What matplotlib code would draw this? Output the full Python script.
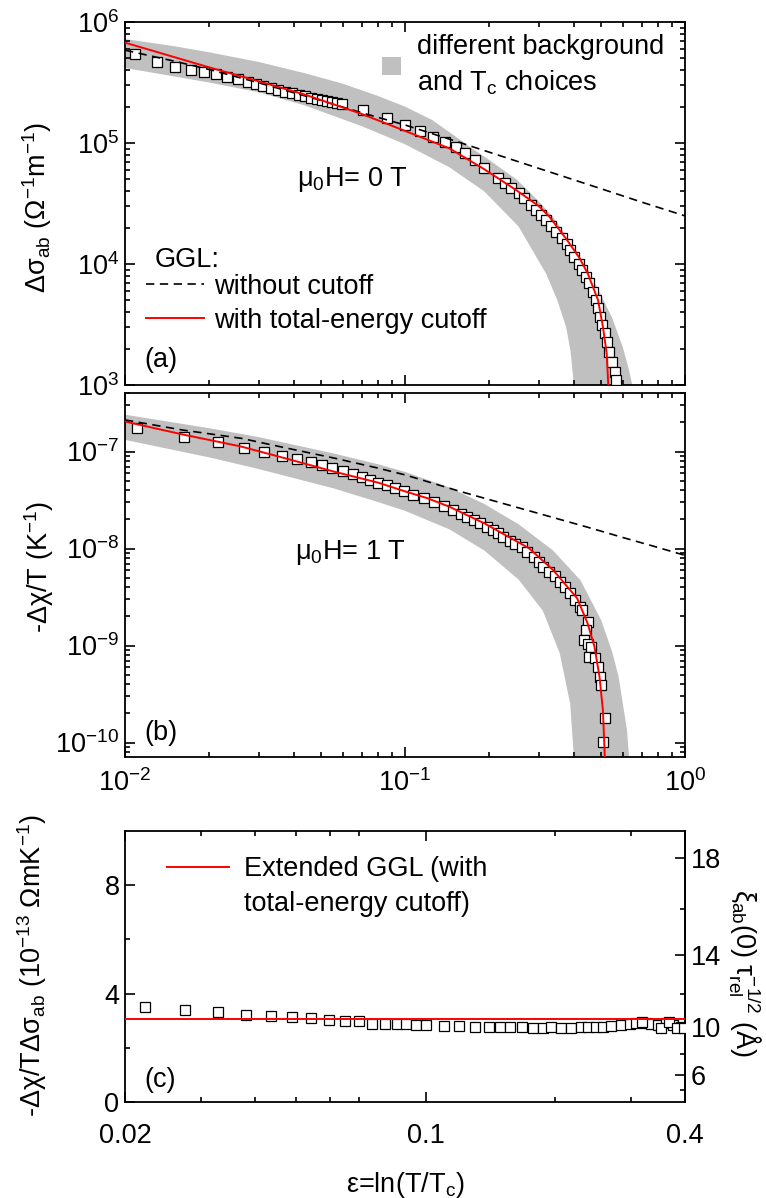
import numpy as np
import matplotlib
matplotlib.use('Agg')
import matplotlib.pyplot as plt
from matplotlib.lines import Line2D
from matplotlib.patches import Patch
from matplotlib.ticker import LogLocator, NullFormatter, FixedLocator, FixedFormatter

plt.rcParams['font.family'] = ['Liberation Sans', 'DejaVu Sans']
plt.rcParams['mathtext.fontset'] = 'custom'
plt.rcParams['mathtext.rm'] = 'Liberation Sans'
plt.rcParams['mathtext.it'] = 'Liberation Sans:italic'
plt.rcParams['mathtext.bf'] = 'Liberation Sans:bold'
plt.rcParams['mathtext.sf'] = 'Liberation Sans'

# ---------------- panel (a): conductivity, 0 T ----------------
a_data_x = [0.0109, 0.0130, 0.0151, 0.0172, 0.0192, 0.0212, 0.0232, 0.0254, 0.0274, 0.0293,
            0.0311, 0.0331, 0.0353, 0.0374, 0.0396, 0.0418, 0.0440, 0.0462, 0.0484, 0.0506,
            0.0528, 0.0550, 0.0572, 0.0594, 0.0708, 0.0859, 0.0998, 0.113, 0.126, 0.1387,
            0.152, 0.164, 0.178, 0.192, 0.215, 0.227, 0.240, 0.2545, 0.2655, 0.281,
            0.293, 0.306, 0.319, 0.333, 0.3475, 0.363, 0.379, 0.389, 0.401, 0.418,
            0.430, 0.442, 0.455, 0.468, 0.482, 0.489, 0.498, 0.507, 0.517, 0.525,
            0.535, 0.547, 0.560, 0.566]
a_data_y = [5.41e5, 4.70e5, 4.28e5, 4.01e5, 3.84e5, 3.70e5, 3.53e5, 3.36e5, 3.19e5, 3.08e5,
            2.94e5, 2.83e5, 2.74e5, 2.65e5, 2.58e5, 2.49e5, 2.43e5, 2.37e5, 2.32e5, 2.27e5,
            2.22e5, 2.18e5, 2.14e5, 2.10e5, 1.86e5, 1.62e5, 1.41e5, 1.26e5, 1.12e5, 1.02e5,
            9.23e4, 8.22e4, 7.24e4, 6.17e4, 5.19e4, 4.70e4, 4.23e4, 3.84e4, 3.49e4, 3.08e4,
            2.79e4, 2.54e4, 2.31e4, 2.06e4, 1.85e4, 1.63e4, 1.46e4, 1.31e4, 1.15e4, 1.01e4,
            8.91e3, 7.85e3, 6.92e3, 5.90e3, 5.04e3, 4.31e3, 3.66e3, 3.13e3, 2.67e3, 2.28e3,
            1.88e3, 1.56e3, 1.29e3, 1.10e3]

a_nocut_x = [0.01, 0.015, 0.02, 0.03, 0.05, 0.07, 0.1, 0.15, 0.2, 0.3, 0.5, 0.7, 1.0]
a_nocut_y = [5.85e5, 4.75e5, 4.05e5, 3.15e5, 2.25e5, 1.78e5, 1.41e5, 1.045e5, 8.4e4, 6.18e4,
             4.2e4, 3.25e4, 2.5e4]

a_cut_x = [0.01, 0.015, 0.02, 0.03, 0.044, 0.07, 0.1, 0.144, 0.192, 0.25, 0.3, 0.328, 0.379,
           0.42, 0.449, 0.489, 0.509, 0.525, 0.532, 0.535]
a_cut_y = [6.76e5, 5.13e5, 4.22e5, 3.24e5, 2.51e5, 1.74e5, 1.26e5, 9.04e4, 6.07e4, 4.07e4,
           3.02e4, 2.46e4, 1.58e4, 1.12e4, 8.38e3, 5.04e3, 3.03e3, 1.83e3, 1.0e3, 5.0e2]

a_band_hi_x = [0.01, 0.015, 0.02, 0.03, 0.044, 0.06, 0.08, 0.1, 0.125, 0.15, 0.175, 0.2, 0.25,
               0.3, 0.34, 0.4, 0.45, 0.5, 0.55, 0.6, 0.63, 0.648, 0.655]
a_band_hi_y = [7.24e5, 6.31e5, 5.62e5, 4.68e5, 3.77e5, 3.09e5, 2.45e5, 2.00e5, 1.55e5, 1.15e5,
               8.91e4, 7.24e4, 5.01e4, 3.31e4, 2.40e4, 1.41e4, 8.91e3, 5.62e3, 3.55e3, 2.04e3,
               1.35e3, 1.0e3, 6.3e2]
a_band_lo_x = [0.01, 0.015, 0.02, 0.03, 0.044, 0.07, 0.1, 0.144, 0.192, 0.2545, 0.319, 0.35,
               0.376, 0.39, 0.401, 0.405]
a_band_lo_y = [4.17e5, 3.55e5, 3.16e5, 2.63e5, 2.04e5, 1.38e5, 9.77e4, 6.31e4, 3.98e4, 2.04e4,
               8.32e3, 5.01e3, 3.02e3, 1.91e3, 1.0e3, 5.0e2]

# ---------------- panel (b): magnetization, 1 T ----------------
b_data_x = [0.01107, 0.01625, 0.0214, 0.0265, 0.0313, 0.0365, 0.0412, 0.046, 0.0507, 0.055,
            0.060, 0.065, 0.070, 0.075, 0.080, 0.086, 0.092, 0.099, 0.107, 0.1166,
            0.1267, 0.1375, 0.148, 0.158, 0.167, 0.176, 0.186, 0.197, 0.2057, 0.2147,
            0.224, 0.237, 0.247, 0.262, 0.273, 0.289, 0.302, 0.3105, 0.328, 0.3425,
            0.357, 0.373, 0.389, 0.406, 0.422, 0.430, 0.449, 0.4425, 0.434, 0.449,
            0.462, 0.455, 0.475, 0.488, 0.495, 0.502, 0.517, 0.509]
b_data_y = [1.75e-7, 1.43e-7, 1.25e-7, 1.10e-7, 1.00e-7, 9.10e-8, 8.41e-8, 7.76e-8, 7.28e-8, 6.73e-8,
            6.24e-8, 5.82e-8, 5.43e-8, 5.13e-8, 4.79e-8, 4.47e-8, 4.17e-8, 3.89e-8, 3.59e-8, 3.31e-8,
            3.02e-8, 2.75e-8, 2.51e-8, 2.29e-8, 2.11e-8, 1.97e-8, 1.82e-8, 1.68e-8, 1.56e-8, 1.44e-8,
            1.33e-8, 1.21e-8, 1.12e-8, 1.03e-8, 9.29e-9, 8.13e-9, 7.33e-9, 6.50e-9, 5.78e-9, 5.21e-9,
            4.56e-9, 4.05e-9, 3.45e-9, 2.95e-9, 2.52e-9, 2.32e-9, 1.76e-9, 1.45e-9, 1.14e-9, 1.05e-9,
            9.73e-10, 7.67e-10, 7.38e-10, 6.05e-10, 4.76e-10, 3.91e-10, 1.81e-10, 1.02e-10]

b_nocut_x = [0.01, 0.016, 0.026, 0.037, 0.056, 0.08, 0.1, 0.157, 0.203, 0.2545, 0.338, 0.449,
             0.6, 0.77, 1.0]
b_nocut_y = [2.12e-7, 1.67e-7, 1.37e-7, 1.10e-7, 8.55e-8, 6.76e-8, 5.75e-8, 3.89e-8, 3.16e-8,
             2.63e-8, 2.09e-8, 1.66e-8, 1.30e-8, 1.06e-8, 8.51e-9]

b_cut_x = [0.01, 0.01625, 0.0259, 0.0372, 0.0557, 0.08, 0.1, 0.12, 0.144, 0.192, 0.277, 0.338,
           0.412, 0.449, 0.475, 0.495, 0.509, 0.517, 0.52]
b_cut_y = [2.04e-7, 1.49e-7, 1.13e-7, 8.55e-8, 6.22e-8, 4.79e-8, 3.89e-8, 3.31e-8, 2.70e-8,
           1.82e-8, 1.01e-8, 6.01e-9, 3.07e-9, 1.69e-9, 9.73e-10, 4.76e-10, 2.16e-10, 7.08e-11,
           2.5e-11]

b_band_hi_x = [0.01, 0.02, 0.03, 0.0557, 0.08, 0.1, 0.144, 0.192, 0.2545, 0.338, 0.424, 0.502,
               0.55, 0.579, 0.621, 0.631, 0.635]
b_band_hi_y = [2.40e-7, 1.74e-7, 1.41e-7, 9.55e-8, 7.41e-8, 6.17e-8, 4.27e-8, 2.88e-8, 1.78e-8,
               9.55e-9, 4.68e-9, 1.82e-9, 8.51e-10, 4.79e-10, 1.32e-10, 7.08e-11, 3.98e-11]
b_band_lo_x = [0.01, 0.02, 0.03, 0.0557, 0.08, 0.1, 0.144, 0.192, 0.2545, 0.3105, 0.357, 0.389,
               0.401, 0.405]
b_band_lo_y = [1.32e-7, 8.71e-8, 6.61e-8, 4.17e-8, 3.02e-8, 2.45e-8, 1.58e-8, 9.55e-9, 4.79e-9,
               2.29e-9, 8.32e-10, 2.51e-10, 7.08e-11, 3.98e-11]

# ---------------- panel (c): ratio ----------------
c_data_x = [0.0222, 0.0276, 0.0329, 0.0382, 0.0436, 0.0489, 0.054, 0.0595, 0.0648, 0.0699,
            0.0751, 0.0803, 0.0855, 0.0899, 0.0949, 0.1002, 0.110, 0.1195, 0.130, 0.140,
            0.149, 0.157, 0.167, 0.177, 0.187, 0.195, 0.2056, 0.217, 0.229, 0.238,
            0.248, 0.258, 0.269, 0.284, 0.298, 0.307, 0.324, 0.333, 0.347, 0.361,
            0.376, 0.391, 0.318, 0.352, 0.368, 0.384, 0.398]
c_data_y = [3.49, 3.39, 3.33, 3.23, 3.17, 3.12, 3.09, 3.03, 3.00, 2.99,
            2.88, 2.88, 2.88, 2.87, 2.84, 2.84, 2.80, 2.80, 2.78, 2.76,
            2.78, 2.76, 2.76, 2.72, 2.72, 2.76, 2.72, 2.72, 2.76, 2.76,
            2.76, 2.78, 2.80, 2.84, 2.88, 2.90, 2.93, 2.88, 2.84, 2.90,
            2.84, 2.78, 2.97, 2.74, 2.96, 2.75, 2.72]
c_fit_x = [0.02, 0.4]
c_fit_y = [3.07, 3.07]

BAND = '#c0c0c0'
FS = 19.5
MS = 7

fig = plt.figure(figsize=(7.66, 11.98), dpi=100)
axa = fig.add_axes([0.1632, 0.6786, 0.7311, 0.3030])
axb = fig.add_axes([0.1632, 0.3681, 0.7311, 0.3038])
axc = fig.add_axes([0.1632, 0.0801, 0.7311, 0.2262])

def style_log(ax):
    ax.set_xscale('log')
    ax.set_yscale('log')
    ax.xaxis.set_major_locator(LogLocator(base=10, numticks=20))
    ax.yaxis.set_major_locator(LogLocator(base=10, numticks=20))
    ax.xaxis.set_minor_locator(LogLocator(base=10, subs=np.arange(2, 10), numticks=20))
    ax.yaxis.set_minor_locator(LogLocator(base=10, subs=np.arange(2, 10), numticks=20))
    ax.xaxis.set_minor_formatter(NullFormatter())
    ax.yaxis.set_minor_formatter(NullFormatter())
    ax.tick_params(which='both', direction='in', top=True, right=True, width=1.2,
                   labelsize=FS)
    ax.tick_params(which='major', length=7)
    ax.tick_params(which='minor', length=3.6)
    ax.tick_params(axis='y', pad=4)
    for s in ax.spines.values():
        s.set_linewidth(1.3)

for ax in (axa, axb):
    style_log(ax)

def band(ax, hx, hy, lx, ly):
    px = np.concatenate([np.asarray(hx), np.asarray(lx)[::-1]])
    py = np.concatenate([np.asarray(hy), np.asarray(ly)[::-1]])
    ax.fill(px, py, color=BAND, lw=0, zorder=1)

# panel (a)
band(axa, a_band_hi_x, a_band_hi_y, a_band_lo_x, a_band_lo_y)
axa.plot(a_data_x, a_data_y, ls='none', marker='s', ms=MS, mfc='white', mec='black',
         mew=0.9, zorder=3)
axa.plot(a_nocut_x, a_nocut_y, color='black', lw=1.2, ls=(0, (5, 3.3)), zorder=4)
axa.plot(a_cut_x, a_cut_y, color='red', lw=1.4, zorder=5)
axa.set_xlim(0.01, 1.0)
axa.set_ylim(1e3, 1e6)
axa.tick_params(labelbottom=False)
axa.set_ylabel('Δσ$_\\mathregular{ab}$ (Ω$^\\mathregular{-1}$m$^\\mathregular{-1}$)', fontsize=FS)
axa.yaxis.set_label_coords(-0.127, 0.49)

axa.text(0.052, 0.325, 'GGL:', transform=axa.transAxes, fontsize=FS, va='baseline', ha='left')
leg1 = axa.legend(handles=[Line2D([], [], color='black', lw=1.2, ls=(0, (5, 3.3))),
                           Line2D([], [], color='red', lw=1.4)],
                  labels=['without cutoff', 'with total-energy cutoff'],
                  loc='upper left', bbox_to_anchor=(0.0375, 0.307), frameon=False,
                  fontsize=FS, handlelength=2.15, handletextpad=0.37, labelspacing=0.30,
                  borderpad=0, borderaxespad=0)
axa.add_artist(leg1)
leg2 = axa.legend(handles=[Patch(facecolor=BAND, edgecolor='none')],
                  labels=['different background\nand T$_\\mathregular{c}$ choices'],
                  loc='upper left', bbox_to_anchor=(0.459, 0.967), frameon=False, fontsize=FS,
                  handlelength=0.70, handleheight=0.63, handletextpad=0.59, borderpad=0,
                  borderaxespad=0)
for t in leg2.get_texts():
    t.set_linespacing(1.4)
axa.text(0.307, 0.548, 'μ$_\\mathregular{0}$H= 0 T', transform=axa.transAxes, fontsize=FS,
         va='baseline', ha='left')
axa.text(0.034, 0.069, '(a)', transform=axa.transAxes, fontsize=FS, va='center', ha='left')

# panel (b)
band(axb, b_band_hi_x, b_band_hi_y, b_band_lo_x, b_band_lo_y)
axb.plot(b_data_x, b_data_y, ls='none', marker='s', ms=MS, mfc='white', mec='black',
         mew=0.9, zorder=3)
axb.plot(b_nocut_x, b_nocut_y, color='black', lw=1.2, ls=(0, (5, 3.3)), zorder=4)
axb.plot(b_cut_x, b_cut_y, color='red', lw=1.4, zorder=5)
axb.set_xlim(0.01, 1.0)
axb.set_ylim(7.10e-11, 4.01e-7)
axb.tick_params(axis='x', pad=9)
axb.set_ylabel('-Δχ/T (K$^\\mathregular{-1}$)', fontsize=FS)
axb.yaxis.set_label_coords(-0.123, 0.522)
axb.text(0.304, 0.544, 'μ$_\\mathregular{0}$H= 1 T', transform=axb.transAxes, fontsize=FS,
         va='baseline', ha='left')
axb.text(0.034, 0.066, '(b)', transform=axb.transAxes, fontsize=FS, va='center', ha='left')

# panel (c)
axc.set_xscale('log')
axc.plot(c_data_x, c_data_y, ls='none', marker='s', ms=MS, mfc='white', mec='black',
         mew=0.9, zorder=3)
axc.plot(c_fit_x, c_fit_y, color='red', lw=1.4, zorder=5)
axc.set_xlim(0.02, 0.4)
axc.set_ylim(0, 10)
axc.xaxis.set_major_locator(FixedLocator([0.02, 0.1, 0.4]))
axc.xaxis.set_major_formatter(FixedFormatter(['0.02', '0.1', '0.4']))
axc.xaxis.set_minor_locator(FixedLocator([0.03, 0.04, 0.05, 0.06, 0.07, 0.2, 0.3]))
axc.xaxis.set_minor_formatter(NullFormatter())
axc.yaxis.set_major_locator(FixedLocator([0, 4, 8]))
axc.yaxis.set_minor_locator(FixedLocator([2, 6]))
axc.tick_params(which='both', direction='in', top=True, right=False, width=1.2, labelsize=FS)
axc.tick_params(which='major', length=7)
axc.tick_params(which='minor', length=3.6)
axc.tick_params(axis='x', pad=15)
axc.tick_params(axis='y', pad=4)
for s in axc.spines.values():
    s.set_linewidth(1.3)

def fwd(L):
    return 6.0 * np.sqrt(np.clip(L, 0, None))

def inv(R):
    return (np.asarray(R) / 6.0) ** 2

sec = axc.secondary_yaxis('right', functions=(fwd, inv))
sec.yaxis.set_major_locator(FixedLocator([6, 10, 14, 18]))
sec.yaxis.set_minor_locator(FixedLocator([4, 8, 12, 16]))
sec.yaxis.set_minor_formatter(NullFormatter())
sec.tick_params(which='both', direction='in', width=1.2, labelsize=FS, pad=4)
sec.tick_params(which='major', length=7)
sec.tick_params(which='minor', length=3.6)
sec.spines['right'].set_linewidth(1.3)

axc.set_ylabel('-Δχ/TΔσ$_\\mathregular{ab}$ (10$^\\mathregular{-13}$ ΩmK$^\\mathregular{-1}$)',
               fontsize=FS)
axc.yaxis.set_label_coords(-0.136, 0.502)
axc.set_xlabel('ε=ln(T/T$_\\mathregular{c}$)', fontsize=FS)
axc.xaxis.set_label_coords(0.5, -0.25)
fig.text(744 / 766, 1 - 973 / 1198,
         'ξ$_\\mathregular{ab}$(0) τ$_\\mathregular{rel}^\\mathregular{-1/2}$ (Å)',
         rotation=270, ha='center', va='center', fontsize=FS)

leg3 = axc.legend(handles=[Line2D([], [], color='red', lw=1.4), Line2D([], [], color='none')],
                  labels=['Extended GGL (with', 'total-energy cutoff)'],
                  loc='upper left', bbox_to_anchor=(0.075, 0.907), frameon=False, fontsize=FS,
                  handlelength=2.3, handletextpad=0.55, labelspacing=0.33, borderpad=0,
                  borderaxespad=0)
axc.text(0.034, 0.081, '(c)', transform=axc.transAxes, fontsize=FS, va='center', ha='left')

fig.savefig('out.png', dpi=100)
